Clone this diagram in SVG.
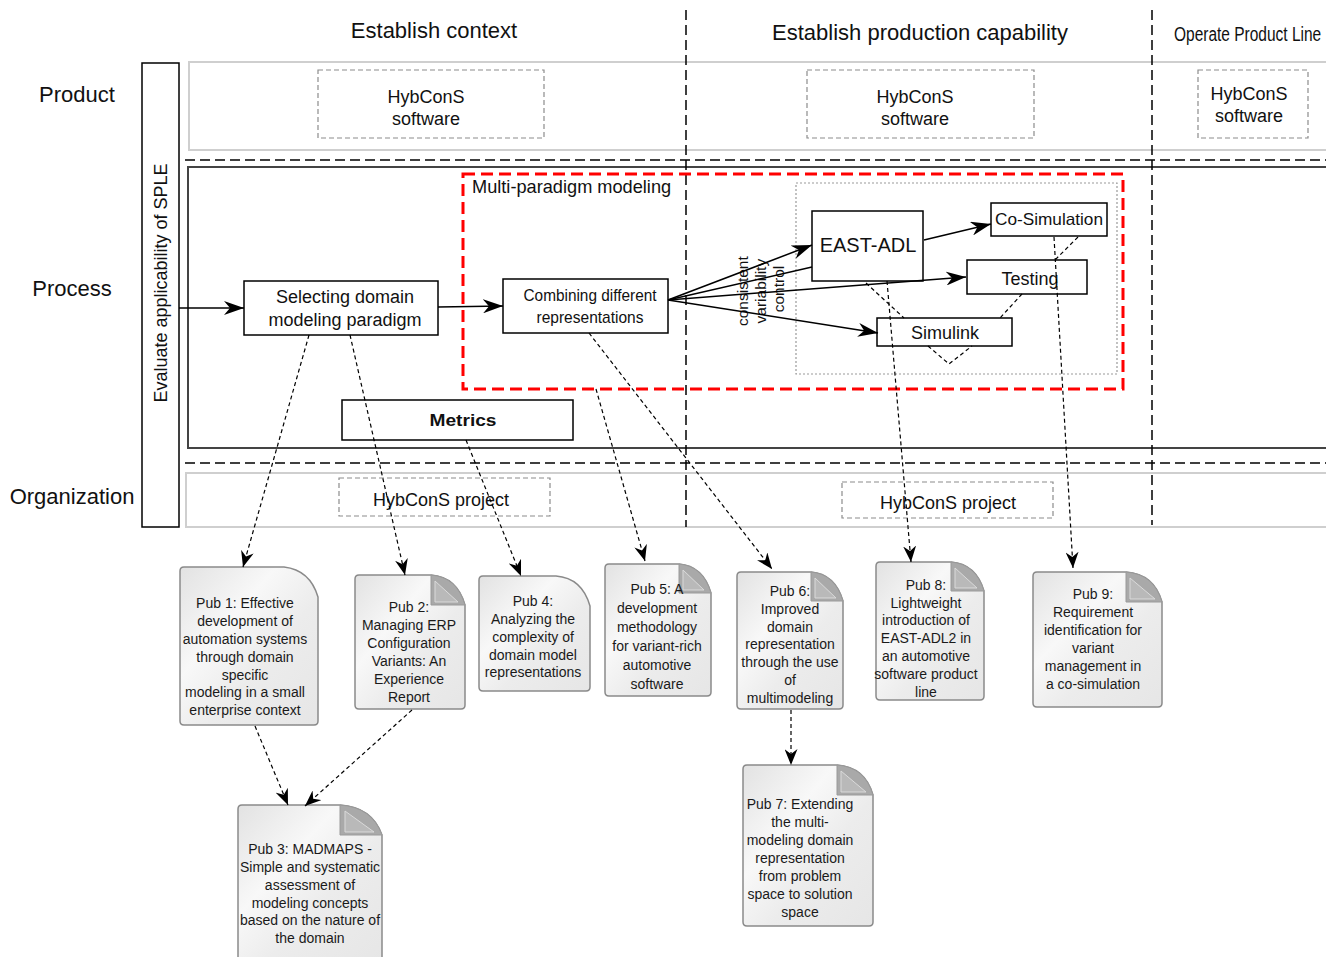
<svg xmlns="http://www.w3.org/2000/svg" width="1326" height="957" viewBox="0 0 1326 957">
  <style>
    text { font-family: "Liberation Sans", Arial, sans-serif; fill: #111; }
    .hdr { font-size: 22px; }
    .lane { fill: none; stroke: #cfcfcf; stroke-width: 2; }
    .proc { fill: none; stroke: #444; stroke-width: 2; }
    .sep { stroke: #000; stroke-width: 1.5; stroke-dasharray: 10 5; fill: none; }
    .gbox { fill: none; stroke: #8c8c8c; stroke-width: 1.2; stroke-dasharray: 5 3; }
    .box { fill: #fff; stroke: #000; stroke-width: 1.5; }
    .solid { stroke: #000; stroke-width: 1.5; fill: none; }
    .dash { stroke: #000; stroke-width: 1.2; fill: none; stroke-dasharray: 4 3; }
    .doc { fill: url(#paper); stroke: #8a8a8a; stroke-width: 1.5; }
    .fold { fill: #a9a9a9; stroke: #9a9a9a; stroke-width: 1; }
    .foldin { fill: #b9b9b9; stroke: #dadada; stroke-width: 1; }
    .pub { font-size: 14px; fill: #1a1a1a; text-anchor: middle; }
    .mid { text-anchor: middle; }
  </style>
  <defs>
    <linearGradient id="paper" x1="0" y1="0" x2="1" y2="1">
      <stop offset="0" stop-color="#e2e2e2"/>
      <stop offset="0.35" stop-color="#f8f8f8"/>
      <stop offset="0.6" stop-color="#ececec"/>
      <stop offset="1" stop-color="#e6e6e6"/>
    </linearGradient>
    <marker id="arr" markerUnits="userSpaceOnUse" markerWidth="22" markerHeight="14" refX="20" refY="7" orient="auto">
      <path d="M0,0 L20,7 L0,14 L6,7 Z" fill="#000"/>
    </marker>
    <marker id="arrD" markerUnits="userSpaceOnUse" markerWidth="18" markerHeight="13" refX="16" refY="6.5" orient="auto">
      <path d="M0,0 L16,6.5 L0,13 L5,6.5 Z" fill="#000"/>
    </marker>
  </defs>

  <!-- phase headers -->
  <g id="phases">
    <text class="hdr mid" x="434" y="38">Establish context</text>
    <text class="hdr mid" x="920" y="40">Establish production capability</text>
    <text transform="translate(1174,41) scale(1,1.25)" x="0" y="0" font-size="15.5">Operate Product Line</text>
  </g>

  <!-- lanes -->
  <g id="lanes">
    <rect class="lane" x="189" y="62" width="1145" height="88"/>
    <rect class="proc" x="188" y="167" width="1146" height="281"/>
    <rect class="lane" x="186" y="473" width="1148" height="54"/>
    <line class="sep" x1="185" y1="160" x2="1326" y2="160"/>
    <line class="sep" x1="185" y1="463" x2="1326" y2="463"/>
    <line class="sep" x1="686" y1="10" x2="686" y2="527"/>
    <line class="sep" x1="1152" y1="10" x2="1152" y2="525"/>
    <text class="hdr mid" x="77" y="102">Product</text>
    <text class="hdr mid" x="72" y="296">Process</text>
    <text class="hdr mid" x="72" y="504">Organization</text>
  </g>

  <!-- vertical activity bar -->
  <g id="evaluate">
    <rect x="142" y="63" width="37" height="464" fill="#fff" stroke="#000" stroke-width="1.5"/>
    <text transform="rotate(-90)" x="-283" y="167" font-size="18" text-anchor="middle">Evaluate applicability of SPLE</text>
  </g>

  <!-- product lane items -->
  <g id="product1">
    <rect class="gbox" x="318" y="70" width="226" height="68"/>
    <text class="mid" x="426" y="103" font-size="18">HybConS</text>
    <text class="mid" x="426" y="125" font-size="18">software</text>
  </g>
  <g id="product2">
    <rect class="gbox" x="807" y="70" width="227" height="68"/>
    <text class="mid" x="915" y="103" font-size="18">HybConS</text>
    <text class="mid" x="915" y="125" font-size="18">software</text>
  </g>
  <g id="product3">
    <rect class="gbox" x="1198" y="70" width="110" height="68"/>
    <text class="mid" x="1249" y="100" font-size="18">HybConS</text>
    <text class="mid" x="1249" y="122" font-size="18">software</text>
  </g>

  <!-- organization lane items -->
  <g id="project1">
    <rect class="gbox" x="339" y="478" width="211" height="38"/>
    <text class="mid" x="441" y="506" font-size="18">HybConS project</text>
  </g>
  <g id="project2">
    <rect class="gbox" x="842" y="482" width="211" height="36"/>
    <text class="mid" x="948" y="509" font-size="18">HybConS project</text>
  </g>

  <!-- process lane -->
  <g id="mpm">
    <rect x="463" y="174" width="660" height="215" fill="none" stroke="#f00" stroke-width="3" stroke-dasharray="12 6"/>
    <text x="472" y="193" font-size="18.2">Multi-paradigm modeling</text>
  </g>
  <g id="toolchain">
    <rect x="796" y="183" width="321" height="191" fill="none" stroke="#999" stroke-width="1.2" stroke-dasharray="2 2"/>
  </g>
  <g id="selecting">
    <rect class="box" x="244" y="281" width="194" height="54"/>
    <text class="mid" x="345" y="303" font-size="18">Selecting domain</text>
    <text class="mid" x="345" y="326" font-size="18">modeling paradigm</text>
  </g>
  <g id="combining">
    <rect class="box" x="503" y="279" width="165" height="54"/>
    <text class="mid" x="590" y="301" font-size="17" textLength="133" lengthAdjust="spacingAndGlyphs">Combining different</text>
    <text class="mid" x="590" y="323" font-size="17" textLength="107" lengthAdjust="spacingAndGlyphs">representations</text>
  </g>
  <g id="metrics">
    <rect class="box" x="342" y="400" width="231" height="40"/>
    <text class="mid" x="463" y="426" font-size="16" font-weight="bold" fill="#222" textLength="67" lengthAdjust="spacingAndGlyphs">Metrics</text>
  </g>
  <g id="eastadl">
    <rect class="box" x="812" y="211" width="111" height="70"/>
    <text class="mid" x="868" y="252" font-size="20">EAST-ADL</text>
  </g>
  <g id="cosim">
    <rect class="box" x="991" y="203" width="116" height="33"/>
    <text class="mid" x="1049" y="225" font-size="16.5" textLength="108" lengthAdjust="spacingAndGlyphs">Co-Simulation</text>
  </g>
  <g id="testing">
    <rect class="box" x="967" y="260" width="120" height="34"/>
    <text class="mid" x="1030" y="285" font-size="18">Testing</text>
  </g>
  <g id="simulink">
    <rect class="box" x="877" y="318" width="135" height="28"/>
    <text class="mid" x="945" y="339" font-size="18">Simulink</text>
  </g>
  <g id="variability-label">
    <text transform="rotate(-90)" font-size="15.5" text-anchor="middle">
      <tspan x="-289" y="748">consistent</tspan>
      <tspan x="-289" y="766">variability</tspan>
      <tspan x="-289" y="784">control</tspan>
    </text>
  </g>

  <!-- publications -->
  <g id="pub1">
    <path class="doc" d="M184,567 H284 Q310,570 318,597 V721 Q318,725 314,725 H184 Q180,725 180,721 V571 Q180,567 184,567 Z"/>
    <text class="pub"><tspan x="245" y="608">Pub 1: Effective</tspan><tspan x="245" y="626">development of</tspan><tspan x="245" y="644">automation systems</tspan><tspan x="245" y="662">through domain</tspan><tspan x="245" y="680">specific</tspan><tspan x="245" y="697">modeling in a small</tspan><tspan x="245" y="715">enterprise context</tspan></text>
  </g>
  <g id="pub2">
    <path class="doc" d="M359,575 H431 Q457,577 465,605 V705 Q465,709 461,709 H359 Q355,709 355,705 V579 Q355,575 359,575 Z"/>
    <path class="fold" d="M431,575 V605 H465 Q457,577 431,575 Z"/>
    <path class="foldin" d="M435,581 V602 H458 Z"/>
    <text class="pub"><tspan x="409" y="612">Pub 2:</tspan><tspan x="409" y="630">Managing ERP</tspan><tspan x="409" y="648">Configuration</tspan><tspan x="409" y="666">Variants: An</tspan><tspan x="409" y="684">Experience</tspan><tspan x="409" y="702">Report</tspan></text>
  </g>
  <g id="pub4">
    <path class="doc" d="M483,576 H556 Q582,578 590,606 V687 Q590,691 586,691 H483 Q479,691 479,687 V580 Q479,576 483,576 Z"/>
    <text class="pub"><tspan x="533" y="606">Pub 4:</tspan><tspan x="533" y="624">Analyzing the</tspan><tspan x="533" y="642">complexity of</tspan><tspan x="533" y="660">domain model</tspan><tspan x="533" y="677">representations</tspan></text>
  </g>
  <g id="pub5">
    <path class="doc" d="M609,564 H679 Q703,566 711,593 V692 Q711,696 707,696 H609 Q605,696 605,692 V568 Q605,564 609,564 Z"/>
    <path class="fold" d="M679,564 V593 H711 Q703,566 679,564 Z"/>
    <path class="foldin" d="M683,570 V590 H704 Z"/>
    <text class="pub"><tspan x="657" y="594">Pub 5: A</tspan><tspan x="657" y="613">development</tspan><tspan x="657" y="632">methodology</tspan><tspan x="657" y="651">for variant-rich</tspan><tspan x="657" y="670">automotive</tspan><tspan x="657" y="689">software</tspan></text>
  </g>
  <g id="pub6">
    <path class="doc" d="M741,572 H811 Q835,574 843,601 V705 Q843,709 839,709 H741 Q737,709 737,705 V576 Q737,572 741,572 Z"/>
    <path class="fold" d="M811,572 V601 H843 Q835,574 811,572 Z"/>
    <path class="foldin" d="M815,578 V598 H836 Z"/>
    <text class="pub"><tspan x="790" y="596">Pub 6:</tspan><tspan x="790" y="614">Improved</tspan><tspan x="790" y="632">domain</tspan><tspan x="790" y="649">representation</tspan><tspan x="790" y="667">through the use</tspan><tspan x="790" y="685">of</tspan><tspan x="790" y="703">multimodeling</tspan></text>
  </g>
  <g id="pub8">
    <path class="doc" d="M880,562 H951 Q976,564 984,591 V696 Q984,700 980,700 H880 Q876,700 876,696 V566 Q876,562 880,562 Z"/>
    <path class="fold" d="M951,562 V591 H984 Q976,564 951,562 Z"/>
    <path class="foldin" d="M955,568 V588 H977 Z"/>
    <text class="pub"><tspan x="926" y="590">Pub 8:</tspan><tspan x="926" y="608">Lightweight</tspan><tspan x="926" y="625">introduction of</tspan><tspan x="926" y="643">EAST-ADL2 in</tspan><tspan x="926" y="661">an automotive</tspan><tspan x="926" y="679">software product</tspan><tspan x="926" y="697">line</tspan></text>
  </g>
  <g id="pub9">
    <path class="doc" d="M1037,572 H1126 Q1154,574 1162,602 V703 Q1162,707 1158,707 H1037 Q1033,707 1033,703 V576 Q1033,572 1037,572 Z"/>
    <path class="fold" d="M1126,572 V602 H1162 Q1154,574 1126,572 Z"/>
    <path class="foldin" d="M1130,578 V599 H1155 Z"/>
    <text class="pub"><tspan x="1093" y="599">Pub 9:</tspan><tspan x="1093" y="617">Requirement</tspan><tspan x="1093" y="635">identification for</tspan><tspan x="1093" y="653">variant</tspan><tspan x="1093" y="671">management in</tspan><tspan x="1093" y="689">a co-simulation</tspan></text>
  </g>
  <g id="pub3">
    <path class="doc" d="M242,805 H340 Q372,807 382,835 V962 H238 V809 Q238,805 242,805 Z"/>
    <path class="fold" d="M340,805 V835 H382 Q372,807 340,805 Z"/>
    <path class="foldin" d="M345,811 V832 H374 Z"/>
    <text class="pub"><tspan x="310" y="854">Pub 3: MADMAPS -</tspan><tspan x="310" y="872">Simple and systematic</tspan><tspan x="310" y="890">assessment of</tspan><tspan x="310" y="908">modeling concepts</tspan><tspan x="310" y="925">based on the nature of</tspan><tspan x="310" y="943">the domain</tspan></text>
  </g>
  <g id="pub7">
    <path class="doc" d="M747,765 H837 Q865,767 873,795 V922 Q873,926 869,926 H747 Q743,926 743,922 V769 Q743,765 747,765 Z"/>
    <path class="fold" d="M837,765 V795 H873 Q865,767 837,765 Z"/>
    <path class="foldin" d="M841,771 V792 H866 Z"/>
    <text class="pub"><tspan x="800" y="809">Pub 7: Extending</tspan><tspan x="800" y="827">the multi-</tspan><tspan x="800" y="845">modeling domain</tspan><tspan x="800" y="863">representation</tspan><tspan x="800" y="881">from problem</tspan><tspan x="800" y="899">space to solution</tspan><tspan x="800" y="917">space</tspan></text>
  </g>

  <!-- connectors -->
  <g id="connectors">
    <line class="solid" x1="179" y1="308" x2="244" y2="308" marker-end="url(#arr)"/>
    <line class="solid" x1="438" y1="307" x2="503" y2="306" marker-end="url(#arr)"/>
    <line class="solid" x1="668" y1="300" x2="812" y2="245" marker-end="url(#arr)"/>
    <line class="solid" x1="668" y1="300" x2="812" y2="267"/>
    <line class="solid" x1="668" y1="300" x2="966" y2="277" marker-end="url(#arr)"/>
    <line class="solid" x1="668" y1="300" x2="878" y2="333" marker-end="url(#arr)"/>
    <line class="solid" x1="924" y1="240" x2="991" y2="224" marker-end="url(#arr)"/>

    <!-- links inside the tool chain -->
    <polyline class="dash" points="866,283 904,318"/>
    <polyline class="dash" points="928,346 949,364 972,346"/>
    <polyline class="dash" points="1022,294 1000,318"/>
    <polyline class="dash" points="1078,237 1055,260"/>

    <!-- traces to publications -->
    <line class="dash" x1="309" y1="335" x2="243" y2="567" marker-end="url(#arrD)"/>
    <line class="dash" x1="350" y1="335" x2="405" y2="575" marker-end="url(#arrD)"/>
    <line class="dash" x1="466" y1="440" x2="521" y2="576" marker-end="url(#arrD)"/>
    <line class="dash" x1="596" y1="389" x2="645" y2="561" marker-end="url(#arrD)"/>
    <line class="dash" x1="589" y1="333" x2="772" y2="569" marker-end="url(#arrD)"/>
    <line class="dash" x1="887" y1="281" x2="911" y2="562" marker-end="url(#arrD)"/>
    <line class="dash" x1="1054" y1="237" x2="1073" y2="568" marker-end="url(#arrD)"/>
    <line class="dash" x1="255" y1="726" x2="288" y2="805" marker-end="url(#arrD)"/>
    <line class="dash" x1="412" y1="710" x2="305" y2="806" marker-end="url(#arrD)"/>
    <line class="dash" x1="791" y1="710" x2="791" y2="765" marker-end="url(#arrD)"/>
  </g>
</svg>
